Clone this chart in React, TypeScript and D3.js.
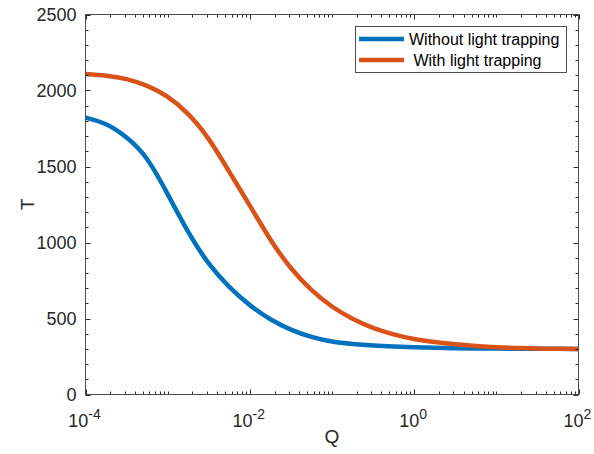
import React from "react";
import * as d3 from "d3";

// log10(Q) sample points and the T values
const logQ = [-4, -3.75, -3.5, -3.25, -3, -2.75, -2.5, -2.25, -2, -1.75, -1.5, -1.25, -1, -0.75, -0.5, -0.25, 0, 0.25, 0.5, 0.75, 1, 1.25, 1.5, 1.75, 2];
const tWithout = [1822, 1778, 1690, 1548, 1318, 1070, 862, 708, 588, 495, 427, 379, 349, 333, 323, 316, 311, 307.5, 305, 303, 302, 301, 300.5, 300.2, 300];
const tWith = [2108, 2097, 2075, 2030, 1958, 1845, 1680, 1465, 1243, 1020, 832, 688, 579, 499, 439, 396, 365, 345, 330, 319, 311, 306, 302, 300.5, 300];

const seriesNames = ["Without light trapping", " With light trapping"];
const seriesColors = ["#0072BD", "#D95319"];
const xLabelExps = [-4, -2, 0, 2];
const yTicks = [0, 500, 1000, 1500, 2000, 2500];

const width = 594,
  height = 454;
const margin = { left: 85.5, right: 15.5, top: 14.5, bottom: 59.5 };

const App = () => {
  const x = d3
    .scaleLog()
    .domain([1e-4, 1e2])
    .range([margin.left, width - margin.right]);
  const y = d3
    .scaleLinear()
    .domain([0, 2500])
    .range([height - margin.bottom, margin.top]);

  const x0 = margin.left,
    x1 = width - margin.right,
    y0 = height - margin.bottom,
    y1 = margin.top;

  const line = d3
    .line<number>()
    .x((d, i) => x(Math.pow(10, logQ[i])))
    .y((d) => y(d))
    .curve(d3.curveNatural);

  const series = [tWithout, tWith];
  const xMinor = x.ticks();
  const yMinor = d3.range(0, 2501, 100);
  const axisColor = "#262626";
  const font = "'Liberation Sans', Arial, sans-serif";

  return (
    <svg
      width={width}
      height={height}
      style={{ position: "absolute", left: 0, top: 0, background: "#fff" }}
      fontFamily={font}
    >
      {/* curves */}
      {series.map((s, k) => (
        <path key={k} d={line(s) || ""} fill="none" stroke={seriesColors[k]} strokeWidth={4.5} />
      ))}

      {/* ticks */}
      <g stroke={axisColor} strokeWidth={1}>
        {xMinor.map((t, i) => {
          const major = xLabelExps.some((e) => Math.abs(Math.log10(t) - e) < 1e-6);
          const len = major ? 5 : 3;
          const px = Math.round(x(t)) + 0.5;
          return (
            <g key={i}>
              <line x1={px} x2={px} y1={y0} y2={y0 - len} />
              <line x1={px} x2={px} y1={y1} y2={y1 + len} />
            </g>
          );
        })}
        {yMinor.map((t, i) => {
          const major = t % 500 === 0;
          const len = major ? 5 : 3;
          const py = Math.round(y(t)) + 0.5;
          return (
            <g key={i}>
              <line x1={x0} x2={x0 + len} y1={py} y2={py} />
              <line x1={x1} x2={x1 - len} y1={py} y2={py} />
            </g>
          );
        })}
      </g>

      {/* box */}
      <rect x={x0} y={y1} width={x1 - x0} height={y0 - y1} fill="none" stroke="#4d4d4d" strokeWidth={1} />

      {/* y tick labels */}
      {yTicks.map((t) => (
        <text key={t} x={x0 - 9} y={y(t)} dy="0.35em" textAnchor="end" fontSize={18} fill={axisColor}>
          {t}
        </text>
      ))}

      {/* x tick labels */}
      {xLabelExps.map((e) => (
        <text key={e} x={x(Math.pow(10, e)) - 1} y={y0 + 32} textAnchor="middle" fontSize={18} fill={axisColor}>
          10
          <tspan dy={-8} fontSize={14}>
            {e}
          </tspan>
        </text>
      ))}

      {/* axis labels */}
      <text x={(x0 + x1) / 2} y={443} textAnchor="middle" fontSize={19} fill={axisColor}>
        Q
      </text>
      <text
        transform={`translate(34,${(y0 + y1) / 2}) rotate(-90)`}
        textAnchor="middle"
        fontSize={19}
        fill={axisColor}
      >
        T
      </text>

      {/* legend */}
      <g>
        <rect x={355.5} y={26.5} width={211} height={46} fill="#fff" stroke={axisColor} strokeWidth={0.8} />
        {seriesNames.map((n, k) => (
          <g key={k} transform={`translate(0,${39 + k * 21})`}>
            <line x1={359} x2={404} y1={0} y2={0} stroke={seriesColors[k]} strokeWidth={4.5} />
            <text x={409} y={0} dy="0.35em" fontSize={16} fill="#000" style={{ whiteSpace: "pre" }}>
              {n}
            </text>
          </g>
        ))}
      </g>
    </svg>
  );
};

export default App;
